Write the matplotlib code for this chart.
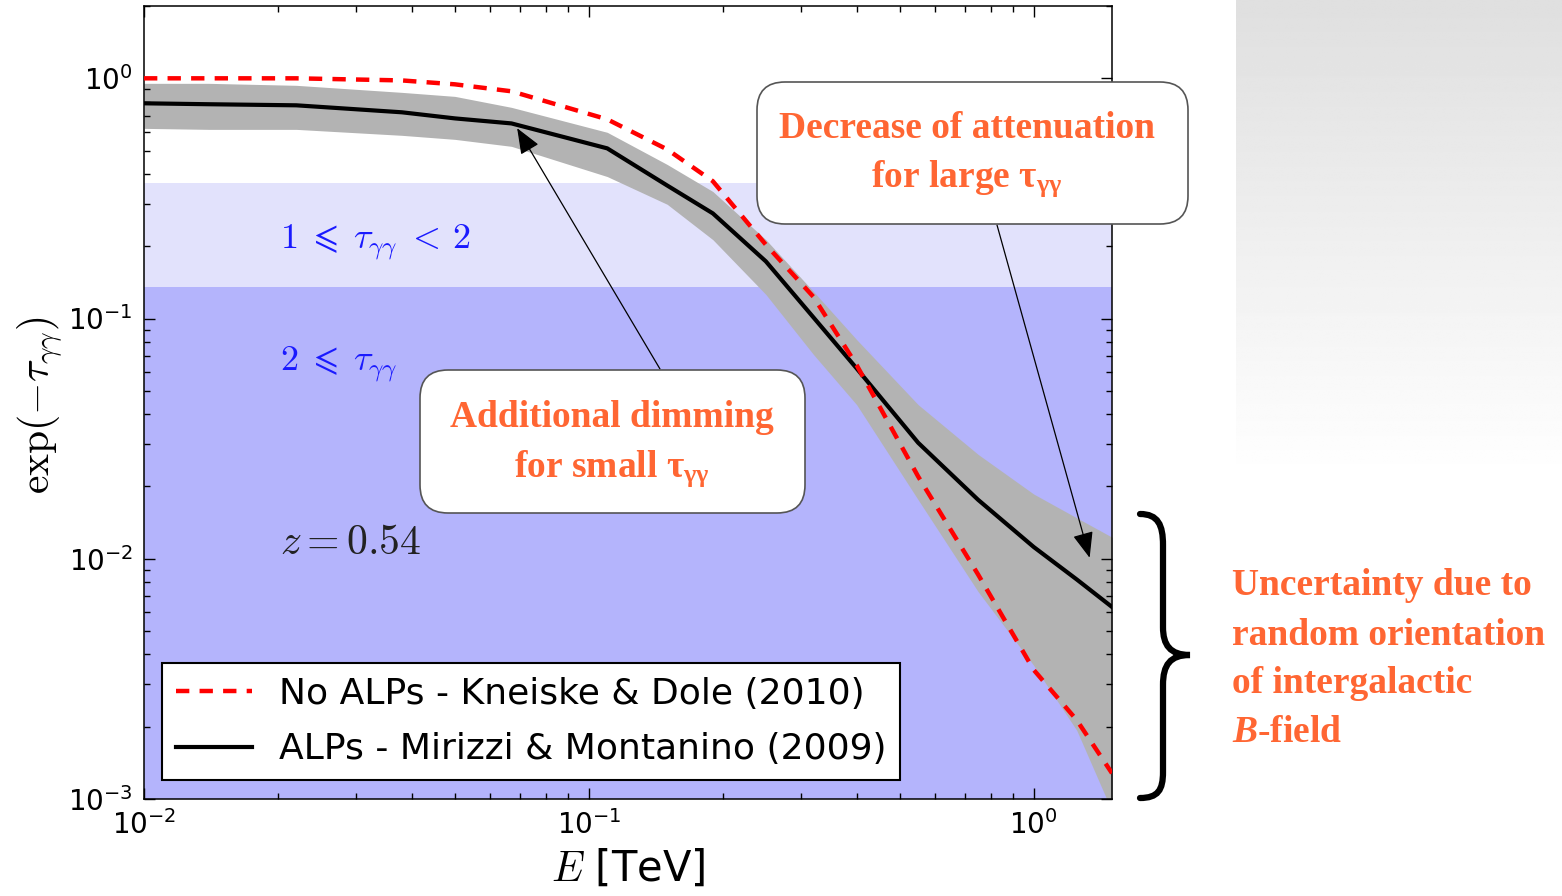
"""
Photon survival probability at z = 0.54 with and without axion-like particles,
with the optical depth regimes shaded and a few explanatory call-outs.
"""

import numpy as np
import matplotlib.pyplot as plt
from matplotlib.patches import FancyBboxPatch, PathPatch
from matplotlib.path import Path
from matplotlib.transforms import IdentityTransform
from matplotlib.ticker import LogLocator, LogFormatterMathtext, NullFormatter

# energy grid [TeV]
energy = [0.010, 0.014, 0.022, 0.038, 0.050, 0.067, 0.110, 0.150, 0.190,
          0.25, 0.32, 0.40, 0.55, 0.75, 1.0, 1.25, 1.5]
# exp(-tau) without ALPs (Kneiske & Dole 2010)
no_alps = [1.0, 1.0, 1.0, 0.98, 0.944, 0.883, 0.675, 0.506, 0.373,
           0.203, 0.123, 0.064, 0.022, 0.0086, 0.00345, 0.00213, 0.00128]
# mean exp(-tau) with ALPs (Mirizzi & Montanino 2009) and its spread
alps = [0.787, 0.78, 0.772, 0.722, 0.681, 0.649, 0.511, 0.358, 0.274,
        0.173, 0.101, 0.062, 0.0304, 0.0176, 0.0112, 0.0082, 0.0063]
alps_upper = [0.953, 0.953, 0.935, 0.874, 0.841, 0.757, 0.596, 0.438, 0.338,
              0.213, 0.1295, 0.0817, 0.0438, 0.0272, 0.0186, 0.0148, 0.0123]
alps_lower = [0.619, 0.613, 0.613, 0.579, 0.557, 0.521, 0.39, 0.299, 0.213,
              0.126, 0.0708, 0.0438, 0.0176, 0.0073, 0.0036, 0.00193, 0.00089]

# optical depth limits of the shaded regimes
tau_edges = [1, 2]
redshift = 0.54

W, H = 1562, 896
ORANGE = '#ff6633'

plt.rcParams['axes.unicode_minus'] = False
plt.rcParams['mathtext.fontset'] = 'cm'
plt.rcParams['mathtext.rm'] = 'Liberation Serif:bold'
plt.rcParams['mathtext.it'] = 'Liberation Serif:bold:italic'
plt.rcParams['mathtext.bf'] = 'Liberation Serif:bold'


def fig_xy(x, y):
    """pixel position measured from the top left -> figure fraction"""
    return x / W, 1 - y / H


def disp_xy(x, y):
    """pixel position measured from the top left -> display coordinates"""
    return x, H - y


fig = plt.figure(figsize=(W / 100, H / 100), dpi=100)
fig.patch.set_facecolor('white')

# grey fade in the upper right corner
bg = fig.add_axes([1236 / W, 1 - 480 / H, (W - 1236) / W, 480 / H], zorder=-5)
shade = np.linspace(0.875, 1.0, 200)[:, None] * np.ones((1, 10))
bg.imshow(shade, cmap='gray', vmin=0, vmax=1, aspect='auto', interpolation='bilinear')
bg.axis('off')

ax = fig.add_axes([144 / W, 1 - 799 / H, 968 / W, 793 / H])

ax.axhspan(np.exp(-tau_edges[1]), np.exp(-tau_edges[0]), color='#e2e2fc', lw=0, zorder=0)
ax.axhspan(1e-3, np.exp(-tau_edges[1]), color='#b4b4fc', lw=0, zorder=0)

ax.fill_between(energy, alps_lower, alps_upper, color='#b3b3b3', lw=0, zorder=1)
ax.plot(energy, no_alps, color='red', ls=(0, (3, 2.3)), lw=3.2, zorder=3,
        label='No ALPs - Kneiske & Dole (2010)')
ax.plot(energy, alps, color='black', lw=3, zorder=2,
        label='ALPs - Mirizzi & Montanino (2009)')

ax.set_xscale('log')
ax.set_yscale('log')
ax.set_xlim(1e-2, 1.5)
ax.set_ylim(1e-3, 2)

for axis in (ax.xaxis, ax.yaxis):
    axis.set_major_locator(LogLocator(base=10))
    axis.set_major_formatter(LogFormatterMathtext())
    axis.set_minor_locator(LogLocator(base=10, subs=np.arange(2, 10)))
    axis.set_minor_formatter(NullFormatter())
ax.tick_params(which='both', direction='in', top=True, right=True, width=1)
ax.tick_params(which='major', length=8, labelsize=20, pad=8)
ax.tick_params(which='minor', length=4.5)
for sp in ax.spines.values():
    sp.set_linewidth(1.1)

ax.set_xlabel(r'$E$ [TeV]', fontsize=30)
ax.xaxis.set_label_coords(0.5, -0.062)
ax.set_ylabel(r'$\exp(-\tau_{\gamma\gamma})$', fontsize=30)
ax.yaxis.set_label_coords(-0.083, 0.497)

ax.text(0.0202, 0.207, r'$1\;\leqslant\;\tau_{\gamma\gamma}\;<\,2$', color='#1a1aff',
        fontsize=26, va='center', ha='left')
ax.text(0.0202, 0.0645, r'$2\;\leqslant\;\tau_{\gamma\gamma}$', color='#1a1aff',
        fontsize=26, va='center', ha='left')
ax.text(0.0202, 0.0118, r'$z=%.2f$' % redshift, color='#222222',
        fontsize=30, va='center', ha='left')

leg = ax.legend(loc='lower left', bbox_to_anchor=(0.019, 0.024), borderaxespad=0,
                fontsize=26, fancybox=False, framealpha=1, edgecolor='black',
                handlelength=2.1, handletextpad=0.75, labelspacing=0.6, borderpad=0.38)
leg.get_frame().set_linewidth(1.5)

# call-out boxes
for x0, y0, x1, y1 in [(420, 370, 805, 513), (757, 82, 1188, 224)]:
    box = FancyBboxPatch(disp_xy(x0, y1), x1 - x0, y1 - y0,
                         boxstyle='round,pad=0,rounding_size=28',
                         transform=IdentityTransform(), facecolor='white',
                         edgecolor='#555555', lw=1.2, zorder=10)
    fig.add_artist(box)

txt = dict(color=ORANGE, fontsize=27, fontweight='bold', family='Liberation Serif',
           math_fontfamily='custom', ha='center', va='baseline', zorder=11)
fig.text(*fig_xy(612, 427), 'Additional dimming', **txt)
fig.text(*fig_xy(612, 477), r'for small $\mathrm{\tau_{\gamma\gamma}}$', **txt)
fig.text(*fig_xy(967, 138), 'Decrease of attenuation', **txt)
fig.text(*fig_xy(967, 187), r'for large $\mathrm{\tau_{\gamma\gamma}}$', **txt)

arrow = dict(arrowstyle='-|>,head_length=0.8,head_width=0.32', color='black',
             lw=0.9, shrinkA=0, shrinkB=0, mutation_scale=20)
ax.annotate('', xy=(0.069, 0.62), xytext=fig_xy(660, 369),
            textcoords='figure fraction', arrowprops=arrow, zorder=12,
            annotation_clip=False)
ax.annotate('', xy=(1.336, 0.0101), xytext=fig_xy(997, 225),
            textcoords='figure fraction', arrowprops=arrow, zorder=12,
            annotation_clip=False)

# curly brace next to the spread at high energy
brace_pts = [(1140, 514), (1158, 514), (1163, 525), (1163, 545),
             (1163, 627),
             (1163, 645), (1170, 655), (1190, 655),
             (1170, 655), (1163, 665), (1163, 685),
             (1163, 772),
             (1163, 790), (1158, 798), (1140, 798)]
brace_codes = ([Path.MOVETO] + [Path.CURVE4] * 3 + [Path.LINETO]
               + [Path.CURVE4] * 6 + [Path.LINETO] + [Path.CURVE4] * 3)
brace = PathPatch(Path([disp_xy(x, y) for x, y in brace_pts], brace_codes),
                  transform=IdentityTransform(), facecolor='none',
                  edgecolor='black', lw=4.5, capstyle='round')
fig.add_artist(brace)

side = dict(color=ORANGE, fontsize=27, fontweight='bold', family='Liberation Serif',
            math_fontfamily='custom', ha='left', va='baseline')
fig.text(*fig_xy(1232, 595), 'Uncertainty due to', **side)
fig.text(*fig_xy(1232, 645), 'random orientation', **side)
fig.text(*fig_xy(1232, 693), 'of intergalactic', **side)
fig.text(*fig_xy(1232, 742), r'$B$-field', **side)

fig.savefig('out.png', dpi=100)
